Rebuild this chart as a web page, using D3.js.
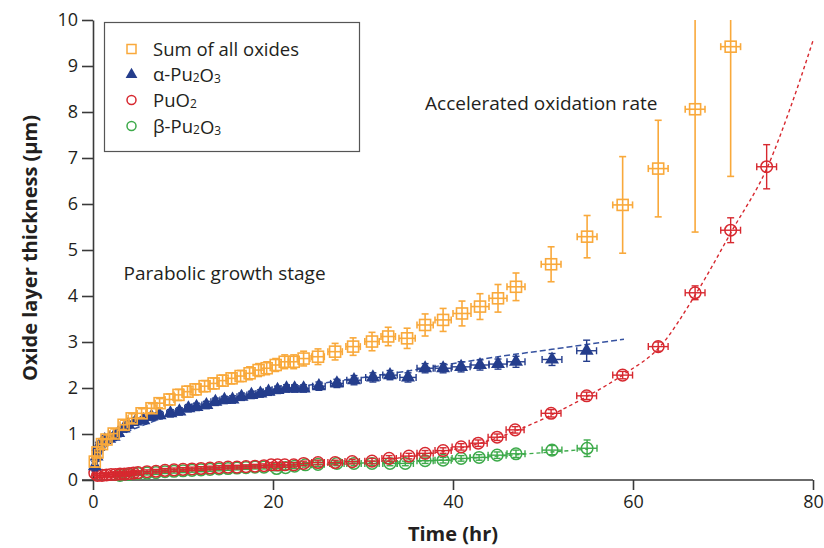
<!DOCTYPE html>
<html>
<head>
<meta charset="utf-8">
<script src="https://cdn.jsdelivr.net/npm/d3@7/dist/d3.min.js"></script>
<style>
  html, body { margin: 0; padding: 0; background: #fff; }
  svg { display: block; }
  text { font-family: "Open Sans", "DejaVu Sans", sans-serif; fill: #231f20; }
</style>
</head>
<body>
<div id="chart"></div>
<script>
// ---------- DATA (time hr, thickness µm, y error, x error) ----------
const xTicks = [0, 20, 40, 60, 80];
const yTicks = [0, 1, 2, 3, 4, 5, 6, 7, 8, 9, 10];

const sumOxides = [
  [0.2,0.40,0.12,0.2],[0.5,0.60,0.12,0.3],[1.0,0.78,0.1,0.4],[1.5,0.88,0.1,0.4],[2.3,1.01,0.1,0.4],
  [3.4,1.20,0.1,0.4],[4.3,1.34,0.1,0.4],[5.4,1.45,0.1,0.5],[6.5,1.56,0.1,0.5],[7.4,1.67,0.1,0.5],
  [8.5,1.75,0.12,0.5],[9.5,1.85,0.12,0.5],[10.5,1.92,0.12,0.5],[11.4,1.97,0.12,0.5],[12.4,2.04,0.12,0.5],
  [13.4,2.10,0.12,0.5],[14.4,2.16,0.12,0.6],[15.4,2.21,0.12,0.6],[16.4,2.26,0.12,0.6],[17.4,2.32,0.14,0.6],
  [18.4,2.39,0.14,0.6],[19.3,2.43,0.14,0.6],[20.3,2.50,0.14,0.6],[21.3,2.57,0.15,0.6],[22.3,2.57,0.15,0.6],
  [23.4,2.64,0.16,0.7],[25.0,2.68,0.17,0.7],[26.9,2.79,0.18,0.8],[28.9,2.90,0.19,0.8],[31.0,3.01,0.2,0.8],
  [32.8,3.12,0.2,0.8],[34.9,3.08,0.22,0.9],[36.9,3.37,0.24,0.9],[38.9,3.48,0.25,0.9],[41.0,3.62,0.27,1.0],
  [43.0,3.77,0.28,1.0],[45.0,3.95,0.30,1.0],[47.0,4.20,0.30,1.0],[50.9,4.69,0.38,1.1],[54.9,5.29,0.46,1.1],
  [58.85,5.98,1.05,1.1],[62.8,6.77,1.05,1.1],[66.9,8.06,2.67,1.1],[70.85,9.42,2.82,1.1]
];

const alphaPu2O3 = [
  [0.2,0.30,0.1,0.2],[0.4,0.51,0.1,0.2],[0.6,0.72,0.1,0.3],[1.0,0.82,0.08,0.3],[1.3,0.87,0.08,0.3],
  [1.8,0.90,0.08,0.3],[2.3,0.94,0.08,0.3],[2.8,1.02,0.08,0.3],[3.4,1.12,0.08,0.3],[3.9,1.20,0.08,0.3],
  [4.7,1.27,0.08,0.4],[5.6,1.30,0.08,0.4],[6.5,1.38,0.08,0.4],[7.4,1.41,0.08,0.4],[8.6,1.45,0.08,0.4],
  [9.6,1.49,0.08,0.4],[10.6,1.56,0.08,0.4],[11.5,1.59,0.08,0.5],[12.6,1.63,0.08,0.5],[13.6,1.70,0.08,0.5],
  [14.6,1.74,0.08,0.5],[15.5,1.75,0.08,0.5],[16.5,1.81,0.08,0.5],[17.6,1.85,0.08,0.5],[18.6,1.88,0.08,0.5],
  [19.5,1.92,0.08,0.6],[20.5,1.96,0.08,0.6],[21.5,1.99,0.08,0.6],[22.4,1.99,0.08,0.6],[23.4,1.99,0.08,0.6],
  [25.1,2.04,0.09,0.7],[27.1,2.10,0.09,0.7],[29.0,2.17,0.1,0.8],[31.1,2.23,0.1,0.8],[33.0,2.28,0.1,0.8],
  [35.0,2.23,0.1,0.9],[36.9,2.43,0.1,0.9],[38.9,2.43,0.1,0.9],[40.9,2.46,0.11,1.0],[43.0,2.50,0.11,1.0],
  [45.0,2.52,0.11,1.0],[47.0,2.57,0.12,1.0],[51.0,2.62,0.13,1.1],[54.85,2.81,0.23,1.1]
];

const puO2 = [
  [0.2,0.15,0.05,0.2],[0.5,0.10,0.04,0.3],[1.0,0.10,0.04,0.3],[1.5,0.11,0.04,0.3],[2.0,0.12,0.04,0.3],
  [2.5,0.12,0.04,0.3],[3.0,0.13,0.04,0.3],[3.5,0.13,0.04,0.3],[4.0,0.14,0.04,0.3],[4.5,0.15,0.04,0.3],
  [5.0,0.16,0.04,0.4],[6.0,0.18,0.04,0.4],[7.0,0.19,0.04,0.4],[8.0,0.21,0.04,0.4],[9.0,0.22,0.04,0.4],
  [10.0,0.23,0.04,0.4],[11.0,0.24,0.04,0.5],[12.0,0.25,0.04,0.5],[13.0,0.26,0.04,0.5],[14.0,0.27,0.04,0.5],
  [15.0,0.28,0.04,0.5],[16.0,0.28,0.04,0.5],[17.0,0.29,0.04,0.5],[18.0,0.30,0.04,0.5],[19.0,0.31,0.04,0.6],
  [19.8,0.33,0.05,0.6],[20.5,0.33,0.05,0.6],[21.3,0.33,0.05,0.6],[22.3,0.33,0.05,0.6],[23.4,0.36,0.05,0.7],
  [25.0,0.38,0.05,0.7],[26.9,0.38,0.05,0.8],[28.8,0.40,0.05,0.8],[31.0,0.41,0.06,0.8],[32.9,0.47,0.06,0.8],
  [35.1,0.52,0.06,0.9],[36.9,0.58,0.06,0.9],[38.9,0.64,0.06,0.9],[40.9,0.72,0.07,1.0],[42.8,0.80,0.07,1.0],
  [44.9,0.93,0.07,1.0],[46.9,1.09,0.07,1.0],[50.9,1.45,0.08,1.1],[54.85,1.83,0.08,1.1],[58.85,2.28,0.08,1.1],
  [62.8,2.90,0.1,1.1],[66.9,4.07,0.15,1.1],[70.85,5.43,0.27,1.1],[74.85,6.81,0.48,1.1]
];

const betaPu2O3 = [
  [3.0,0.10,0.04,0.3],[4.0,0.12,0.04,0.3],[5.0,0.14,0.04,0.4],[6.0,0.15,0.04,0.4],[7.0,0.16,0.04,0.4],
  [8.0,0.18,0.04,0.4],[9.0,0.19,0.04,0.4],[10.0,0.20,0.04,0.4],[11.0,0.21,0.04,0.5],[12.0,0.22,0.04,0.5],
  [13.0,0.23,0.04,0.5],[14.0,0.24,0.04,0.5],[15.0,0.25,0.04,0.5],[16.0,0.26,0.04,0.5],[17.0,0.27,0.04,0.5],
  [18.0,0.28,0.04,0.5],[19.0,0.28,0.04,0.6],[20.4,0.25,0.05,0.6],[21.4,0.27,0.05,0.6],[22.4,0.30,0.05,0.6],
  [23.6,0.33,0.05,0.7],[25.0,0.34,0.05,0.7],[27.1,0.36,0.05,0.8],[29.0,0.36,0.05,0.8],[31.0,0.36,0.05,0.8],
  [33.0,0.36,0.05,0.8],[34.7,0.36,0.05,0.9],[36.9,0.42,0.06,0.9],[38.9,0.43,0.06,0.9],[40.9,0.47,0.06,1.0],
  [42.9,0.49,0.06,1.0],[44.9,0.54,0.07,1.0],[47.0,0.57,0.08,1.0],[51.0,0.65,0.1,1.1],[54.9,0.69,0.18,1.1]
];

// dashed fit curves
const alphaFit = [[0,0.15],[1,0.6],[3,0.95],[6,1.22],[10,1.48],[15,1.72],[20,1.93],[25,2.09],[30,2.23],[35,2.37],[41,2.56],[45,2.68],[51,2.84],[55,2.95],[59,3.06]];
const puO2Fit = [[33,0.45],[37,0.57],[41,0.70],[45,0.92],[47,1.07],[51,1.42],[55,1.83],[59,2.30],[63,2.90],[67,4.05],[71,5.42],[75,6.83],[77.5,8.1],[80,9.55]];
const betaFit = [[5,0.15],[10,0.21],[20,0.30],[30,0.37],[35,0.40],[41,0.46],[45,0.52],[47,0.55],[51,0.61],[55,0.67]];

const legendLabels = ["Sum of all oxides", "α-Pu₂O₃", "PuO₂", "β-Pu₂O₃"];
const annotations = [
  {text: "Accelerated oxidation rate", t: 36.9, v: 8.04},
  {text: "Parabolic growth stage", t: 3.4, v: 4.35}
];

// ---------- CHART ----------
const W = 824, H = 548;
const colors = {sum: "#F9A93B", alpha: "#243D8C", pu: "#D7282F", beta: "#3DAA4A"};

const svg = d3.select("#chart").append("svg").attr("width", W).attr("height", H);

const x = d3.scaleLinear().domain([0, 80]).range([93, 813]);
const y = d3.scaleLinear().domain([0, 10]).range([480, 20]);

svg.append("defs").append("clipPath").attr("id", "plotclip")
  .append("rect").attr("x", 80).attr("y", y(10)).attr("width", 745).attr("height", y(0) - y(10) + 5);

// axes
const axisColor = "#3a3a3a";
const gx = svg.append("g").attr("transform", `translate(0,${y(0)})`)
  .call(d3.axisBottom(x).tickValues(xTicks).tickSize(10).tickSizeOuter(0).tickPadding(5));
gx.select(".domain").remove();
gx.append("line").attr("x1", 82).attr("x2", x(80)).attr("y1", 0).attr("y2", 0)
  .attr("stroke", axisColor).attr("stroke-width", 1.6);
gx.selectAll(".tick line").attr("stroke", axisColor).attr("stroke-width", 1.6);
gx.selectAll(".tick text").attr("font-size", 18).attr("fill", "#231f20")
  .attr("font-family", "Open Sans, sans-serif");

const gy = svg.append("g").attr("transform", `translate(${x(0)},0)`)
  .call(d3.axisLeft(y).tickValues(yTicks).tickSize(11).tickSizeOuter(0).tickPadding(4));
gy.select(".domain").attr("stroke", axisColor).attr("stroke-width", 1.6);
gy.selectAll(".tick line").attr("stroke", axisColor).attr("stroke-width", 1.6);
gy.selectAll(".tick text").attr("font-size", 18).attr("fill", "#231f20")
  .attr("font-family", "Open Sans, sans-serif");

svg.append("text").attr("x", 453).attr("y", 541).attr("text-anchor", "middle")
  .attr("font-size", 20).attr("font-weight", "bold").text("Time (hr)");
svg.append("text").attr("transform", `translate(37,248) rotate(-90)`).attr("text-anchor", "middle")
  .attr("font-size", 20).attr("font-weight", "bold").text("Oxide layer thickness (µm)");

// annotations
annotations.forEach(a => {
  svg.append("text").attr("x", x(a.t)).attr("y", y(a.v)).attr("font-size", 19).text(a.text);
});

const plot = svg.append("g").attr("clip-path", "url(#plotclip)");

// fit lines
const line = d3.line().x(d => x(d[0])).y(d => y(d[1])).curve(d3.curveMonotoneX);
plot.append("path").datum(betaFit).attr("d", line).attr("fill", "none")
  .attr("stroke", colors.beta).attr("stroke-width", 1.4).attr("stroke-dasharray", "4,3");
plot.append("path").datum(puO2Fit).attr("d", line).attr("fill", "none")
  .attr("stroke", colors.pu).attr("stroke-width", 1.4).attr("stroke-dasharray", "3.5,3");
plot.append("path").datum(alphaFit).attr("d", line).attr("fill", "none")
  .attr("stroke", "#3652a0").attr("stroke-width", 1.5).attr("stroke-dasharray", "6,3");

function errorBars(g, data, color, sw) {
  const cap = 3.5;
  const gg = g.append("g").attr("stroke", color).attr("stroke-width", sw).attr("fill", "none");
  data.forEach(d => {
    const [t, v, ey, ex] = d;
    const y1 = y(v - ey), y2 = y(v + ey);
    const x1 = x(t - ex), x2 = x(t + ex);
    const cx = x(t), cy = y(v);
    gg.append("line").attr("x1", cx).attr("x2", cx).attr("y1", y1).attr("y2", y2);
    gg.append("line").attr("x1", cx - cap).attr("x2", cx + cap).attr("y1", y1).attr("y2", y1);
    gg.append("line").attr("x1", cx - cap).attr("x2", cx + cap).attr("y1", y2).attr("y2", y2);
    gg.append("line").attr("x1", x1).attr("x2", x2).attr("y1", cy).attr("y2", cy);
    gg.append("line").attr("x1", x1).attr("x2", x1).attr("y1", cy - cap).attr("y2", cy + cap);
    gg.append("line").attr("x1", x2).attr("x2", x2).attr("y1", cy - cap).attr("y2", cy + cap);
  });
}

const triPath = d3.symbol().type(d3.symbolTriangle).size(85)();

// beta
errorBars(plot, betaPu2O3, colors.beta, 1.4);
plot.append("g").selectAll("circle").data(betaPu2O3).join("circle")
  .attr("cx", d => x(d[0])).attr("cy", d => y(d[1])).attr("r", 5.8)
  .attr("fill", "none").attr("stroke", colors.beta).attr("stroke-width", 1.5);
// PuO2
errorBars(plot, puO2, colors.pu, 1.4);
plot.append("g").selectAll("circle").data(puO2).join("circle")
  .attr("cx", d => x(d[0])).attr("cy", d => y(d[1])).attr("r", 5.8)
  .attr("fill", "none").attr("stroke", colors.pu).attr("stroke-width", 1.5);
// alpha
errorBars(plot, alphaPu2O3, colors.alpha, 1.4);
plot.append("g").selectAll("path").data(alphaPu2O3).join("path")
  .attr("d", triPath).attr("transform", d => `translate(${x(d[0])},${y(d[1])})`)
  .attr("fill", colors.alpha);
// sum
errorBars(plot, sumOxides, colors.sum, 1.6);
plot.append("g").selectAll("rect").data(sumOxides).join("rect")
  .attr("x", d => x(d[0]) - 5.5).attr("y", d => y(d[1]) - 5.5).attr("width", 11).attr("height", 11)
  .attr("fill", "none").attr("stroke", colors.sum).attr("stroke-width", 1.6);

// legend
const lg = svg.append("g");
lg.append("rect").attr("x", 104.5).attr("y", 22.5).attr("width", 255).attr("height", 129)
  .attr("fill", "#fff").attr("stroke", "#555").attr("stroke-width", 1.2);
const rows = [49, 74, 100, 126];
lg.append("rect").attr("x", 127).attr("y", rows[0] - 4.5).attr("width", 9).attr("height", 9)
  .attr("fill", "none").attr("stroke", colors.sum).attr("stroke-width", 1.5);
lg.append("path").attr("d", d3.symbol().type(d3.symbolTriangle).size(60)())
  .attr("transform", `translate(131.5,${rows[1] + 0.5})`).attr("fill", colors.alpha);
lg.append("circle").attr("cx", 131.5).attr("cy", rows[2]).attr("r", 4.5)
  .attr("fill", "none").attr("stroke", colors.pu).attr("stroke-width", 1.5);
lg.append("circle").attr("cx", 131.5).attr("cy", rows[3]).attr("r", 4.5)
  .attr("fill", "none").attr("stroke", colors.beta).attr("stroke-width", 1.5);

function richLabel(g, str, xx, yy) {
  const t = g.append("text").attr("x", xx).attr("y", yy + 6.5).attr("font-size", 18.5);
  const subs = {"₂": "2", "₃": "3"};
  let buf = "";
  const flush = () => { if (buf) { t.append("tspan").text(buf); buf = ""; } };
  for (const ch of str) {
    if (subs[ch]) {
      flush();
      t.append("tspan").attr("font-size", 12).attr("dy", 1).text(subs[ch]);
      t.append("tspan").attr("dy", -1).text("");
    } else buf += ch;
  }
  flush();
}
legendLabels.forEach((s, i) => richLabel(lg, s, 153, rows[i]));
</script>
</body>
</html>
